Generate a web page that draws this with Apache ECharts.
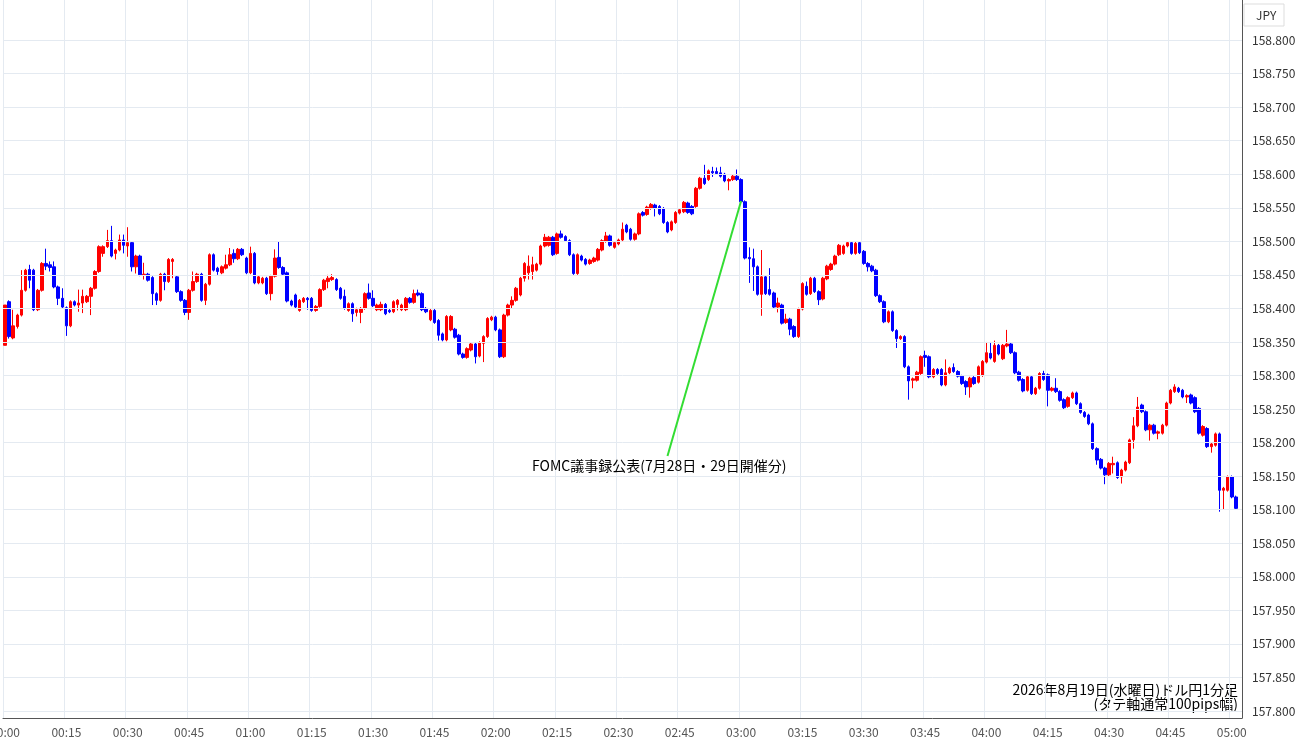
<!DOCTYPE html>
<html><head><meta charset="utf-8">
<script src="https://cdn.jsdelivr.net/npm/echarts@6/dist/echarts.min.js"></script>
<style>html,body{margin:0;padding:0;background:#fff}#c{width:1300px;height:745px}</style>
</head><body><div id="c"></div>
<script>
// [open, close, low, high] per 1-minute candle from 00:00
const ohlc = [
[158.345,158.405,158.345,158.405],[158.410,158.358,158.355,158.412],[158.356,158.374,158.354,158.398],[158.373,158.390,158.370,158.392],[158.390,158.427,158.388,158.457],
[158.427,158.457,158.425,158.459],[158.458,158.442,158.430,158.465],[158.457,158.398,158.396,158.459],[158.398,158.427,158.396,158.429],[158.427,158.467,158.425,158.469],
[158.467,158.463,158.457,158.489],[158.465,158.461,158.455,158.470],[158.462,158.432,158.430,158.470],[158.432,158.415,158.405,158.434],[158.415,158.402,158.400,158.430],
[158.401,158.374,158.359,158.403],[158.374,158.410,158.372,158.412],[158.410,158.405,158.403,158.412],[158.405,158.408,158.395,158.428],[158.408,158.418,158.393,158.428],
[158.410,158.418,158.408,158.420],[158.418,158.430,158.390,158.432],[158.430,158.455,158.428,158.457],[158.455,158.492,158.453,158.494],[158.482,158.492,158.477,158.494],
[158.492,158.501,158.490,158.517],[158.501,158.478,158.476,158.523],[158.482,158.487,158.473,158.489],[158.487,158.502,158.485,158.510],[158.502,158.494,158.482,158.510],
[158.493,158.498,158.477,158.521],[158.498,158.462,158.455,158.500],[158.462,158.478,158.452,158.480],[158.478,158.450,158.448,158.480],[158.450,158.451,158.443,158.468],
[158.451,158.442,158.440,158.453],[158.446,158.422,158.405,158.448],[158.422,158.412,158.405,158.424],[158.412,158.451,158.410,158.453],[158.451,158.440,158.427,158.453],
[158.440,158.473,158.438,158.475],[158.470,158.473,158.445,158.475],[158.447,158.425,158.423,158.449],[158.425,158.412,158.410,158.427],[158.412,158.394,158.390,158.414],
[158.394,158.427,158.383,158.429],[158.427,158.440,158.425,158.455],[158.440,158.451,158.438,158.453],[158.451,158.412,158.410,158.453],[158.412,158.436,158.405,158.438],
[158.436,158.480,158.434,158.482],[158.480,158.457,158.455,158.482],[158.460,158.455,158.450,158.462],[158.453,158.462,158.451,158.464],[158.460,158.465,158.458,158.480],
[158.465,158.480,158.463,158.490],[158.482,158.474,158.468,158.488],[158.474,158.488,158.472,158.490],[158.488,158.480,158.478,158.490],[158.475,158.453,158.451,158.477],
[158.453,158.482,158.451,158.492],[158.482,158.438,158.436,158.484],[158.438,158.447,158.436,158.449],[158.438,158.445,158.436,158.447],[158.445,158.422,158.420,158.447],
[158.422,158.448,158.412,158.450],[158.448,158.475,158.446,158.488],[158.476,158.461,158.459,158.500],[158.461,158.451,158.449,158.463],[158.453,158.411,158.409,158.455],
[158.411,158.405,158.403,158.413],[158.420,158.402,158.400,158.422],[158.397,158.412,158.395,158.414],[158.410,158.415,158.408,158.417],[158.415,158.413,158.398,158.417],
[158.415,158.397,158.395,158.417],[158.397,158.403,158.395,158.405],[158.403,158.428,158.401,158.430],[158.428,158.442,158.426,158.444],[158.440,158.445,158.430,158.450],
[158.443,158.446,158.441,158.451],[158.443,158.428,158.426,158.445],[158.430,158.415,158.413,158.432],[158.418,158.400,158.398,158.428],[158.397,158.407,158.395,158.409],
[158.407,158.392,158.380,158.409],[158.394,158.398,158.388,158.401],[158.394,158.400,158.378,158.402],[158.400,158.422,158.398,158.424],[158.423,158.415,158.413,158.437],
[158.415,158.404,158.402,158.427],[158.398,158.405,158.396,158.407],[158.398,158.406,158.396,158.410],[158.406,158.392,158.390,158.408],[158.397,158.395,158.393,158.399],
[158.395,158.410,158.393,158.412],[158.406,158.412,158.397,158.414],[158.398,158.405,158.396,158.407],[158.398,158.415,158.396,158.417],[158.415,158.409,158.407,158.417],
[158.409,158.422,158.407,158.428],[158.423,158.420,158.418,158.428],[158.422,158.398,158.396,158.424],[158.400,158.395,158.393,158.402],[158.383,158.397,158.381,158.399],
[158.397,158.379,158.377,158.399],[158.382,158.360,158.352,158.384],[158.362,158.353,158.351,158.364],[158.353,158.388,158.351,158.390],[158.368,158.388,158.366,158.390],
[158.369,158.357,158.355,158.371],[158.360,158.332,158.330,158.362],[158.332,158.327,158.325,158.334],[158.327,158.340,158.325,158.342],[158.338,158.347,158.336,158.349],
[158.347,158.328,158.318,158.349],[158.329,158.349,158.327,158.351],[158.348,158.358,158.320,158.360],[158.358,158.385,158.356,158.387],[158.383,158.387,158.381,158.389],
[158.387,158.368,158.366,158.389],[158.368,158.328,158.326,158.370],[158.328,158.390,158.326,158.392],[158.390,158.405,158.388,158.407],[158.405,158.412,158.400,158.418],
[158.412,158.430,158.410,158.432],[158.420,158.445,158.418,158.447],[158.445,158.467,158.440,158.469],[158.453,158.463,158.443,158.479],[158.455,158.465,158.443,158.477],
[158.457,158.466,158.455,158.468],[158.466,158.493,158.464,158.495],[158.493,158.506,158.491,158.511],[158.494,158.506,158.492,158.508],[158.506,158.480,158.478,158.508],
[158.482,158.511,158.480,158.513],[158.511,158.506,158.504,158.516],[158.507,158.501,158.499,158.509],[158.501,158.480,158.478,158.503],[158.480,158.452,158.450,158.482],
[158.452,158.480,158.450,158.482],[158.478,158.472,158.470,158.480],[158.473,158.466,158.464,158.475],[158.467,158.472,158.465,158.474],[158.470,158.475,158.468,158.477],
[158.472,158.488,158.470,158.490],[158.487,158.501,158.485,158.503],[158.500,158.508,158.498,158.514],[158.508,158.494,158.492,158.510],[158.491,158.498,158.489,158.500],
[158.496,158.502,158.494,158.504],[158.502,158.518,158.500,158.528],[158.524,158.514,158.512,158.526],[158.518,158.503,158.501,158.520],[158.503,158.511,158.501,158.513],
[158.511,158.541,158.509,158.543],[158.543,158.539,158.537,158.545],[158.540,158.551,158.538,158.553],[158.549,158.555,158.547,158.557],[158.554,158.549,158.537,158.556],
[158.552,158.541,158.539,158.554],[158.549,158.528,158.526,158.551],[158.528,158.514,158.512,158.530],[158.517,158.529,158.515,158.531],[158.528,158.543,158.526,158.545],
[158.542,158.547,158.540,158.549],[158.544,158.558,158.542,158.560],[158.557,158.543,158.541,158.559],[158.552,158.541,158.539,158.554],[158.552,158.579,158.550,158.581],
[158.579,158.594,158.577,158.596],[158.594,158.586,158.584,158.614],[158.592,158.605,158.590,158.607],[158.604,158.602,158.596,158.611],[158.604,158.601,158.599,158.610],
[158.602,158.597,158.595,158.611],[158.600,158.590,158.588,158.602],[158.590,158.592,158.576,158.594],[158.592,158.597,158.590,158.599],[158.597,158.592,158.590,158.607],
[158.592,158.559,158.557,158.594],[158.559,158.475,158.473,158.561],[158.476,158.474,158.438,158.491],[158.474,158.462,158.426,158.489],[158.462,158.421,158.419,158.464],
[158.421,158.447,158.389,158.487],[158.447,158.422,158.420,158.449],[158.428,158.421,158.419,158.460],[158.423,158.402,158.400,158.425],[158.402,158.408,158.394,158.416],
[158.405,158.378,158.376,158.407],[158.379,158.384,158.377,158.392],[158.384,158.369,158.360,158.386],[158.373,158.358,158.356,158.375],[158.358,158.399,158.356,158.401],
[158.399,158.437,158.397,158.439],[158.433,158.421,158.419,158.440],[158.422,158.445,158.420,158.447],[158.445,158.425,158.423,158.447],[158.425,158.413,158.405,158.427],
[158.414,158.445,158.412,158.447],[158.444,158.463,158.442,158.465],[158.458,158.466,158.456,158.468],[158.466,158.478,158.464,158.480],[158.480,158.494,158.478,158.496],
[158.482,158.493,158.480,158.495],[158.493,158.498,158.491,158.500],[158.498,158.482,158.480,158.500],[158.482,158.497,158.480,158.499],[158.498,158.483,158.481,158.500],
[158.485,158.467,158.465,158.487],[158.467,158.462,158.455,158.469],[158.463,158.456,158.454,158.465],[158.457,158.419,158.417,158.459],[158.419,158.410,158.408,158.421],
[158.410,158.380,158.378,158.412],[158.380,158.395,158.378,158.397],[158.395,158.367,158.365,158.397],[158.367,158.355,158.341,158.369],[158.355,158.358,158.353,158.360],
[158.358,158.313,158.311,158.360],[158.313,158.292,158.264,158.315],[158.293,158.295,158.281,158.297],[158.293,158.305,158.291,158.307],[158.303,158.328,158.301,158.330],
[158.330,158.327,158.313,158.337],[158.328,158.298,158.296,158.330],[158.298,158.309,158.296,158.311],[158.309,158.303,158.301,158.311],[158.309,158.286,158.284,158.311],
[158.286,158.304,158.284,158.324],[158.304,158.311,158.302,158.313],[158.312,158.306,158.304,158.318],[158.306,158.299,158.297,158.308],[158.299,158.288,158.286,158.301],
[158.291,158.283,158.271,158.293],[158.283,158.296,158.267,158.298],[158.297,158.288,158.286,158.299],[158.290,158.313,158.288,158.315],[158.300,158.321,158.298,158.323],
[158.320,158.334,158.318,158.350],[158.333,158.326,158.324,158.350],[158.321,158.345,158.319,158.352],[158.345,158.332,158.330,158.347],[158.325,158.345,158.323,158.347],
[158.344,158.347,158.342,158.368],[158.347,158.334,158.332,158.349],[158.334,158.304,158.302,158.336],[158.305,158.293,158.291,158.307],[158.294,158.277,158.275,158.296],
[158.278,158.298,158.276,158.300],[158.298,158.273,158.271,158.300],[158.273,158.281,158.271,158.283],[158.281,158.303,158.279,158.305],[158.303,158.294,158.292,158.307],
[158.301,158.278,158.254,158.303],[158.278,158.281,158.276,158.283],[158.281,158.276,158.274,158.296],[158.276,158.263,158.261,158.278],[158.264,158.252,158.250,158.266],
[158.254,158.267,158.252,158.269],[158.267,158.274,158.265,158.276],[158.274,158.258,158.256,158.276],[158.258,158.245,158.243,158.260],[158.245,158.239,158.237,158.247],
[158.241,158.228,158.226,158.243],[158.228,158.191,158.189,158.230],[158.191,158.174,158.167,158.193],[158.175,158.162,158.160,158.177],[158.162,158.152,158.138,158.164],
[158.152,158.169,158.150,158.171],[158.167,158.169,158.154,158.179],[158.170,158.148,158.146,158.172],[158.149,158.159,158.139,158.161],[158.159,158.171,158.157,158.173],
[158.170,158.204,158.168,158.206],[158.204,158.225,158.191,158.238],[158.225,158.253,158.223,158.268],[158.256,158.246,158.244,158.258],[158.246,158.219,158.217,158.248],
[158.219,158.226,158.203,158.228],[158.226,158.214,158.212,158.228],[158.214,158.216,158.205,158.218],[158.214,158.226,158.212,158.228],[158.226,158.259,158.224,158.261],
[158.259,158.278,158.257,158.280],[158.276,158.283,158.274,158.287],[158.281,158.276,158.274,158.283],[158.278,158.268,158.266,158.280],[158.268,158.270,158.259,158.272],
[158.271,158.259,158.257,158.273],[158.267,158.246,158.244,158.269],[158.251,158.214,158.212,158.253],[158.211,158.224,158.209,158.226],[158.221,158.194,158.192,158.223],
[158.194,158.198,158.185,158.200],[158.196,158.213,158.194,158.215],[158.213,158.129,158.097,158.215],[158.129,158.132,158.100,158.134],[158.129,158.149,158.127,158.151],
[158.149,158.119,158.117,158.151],[158.119,158.102,158.100,158.121]
];
const startHour = 0, nCats = 303;
const categories = [];
for (let i = 0; i < nCats; i++) {
  const h = startHour + Math.floor(i / 60), m = i % 60;
  categories.push(String(h).padStart(2,'0') + ':' + String(m).padStart(2,'0'));
}
const yTicks = [157.80,157.85,157.90,157.95,158.00,158.05,158.10,158.15,158.20,158.25,158.30,158.35,158.40,158.45,158.50,158.55,158.60,158.65,158.70,158.75,158.80];
const yMin = 157.7896, yMax = 158.8596;
const annotation = { text: 'FOMC議事録公表(7月28日・29日開催分)', from: [180, 158.560], to: [162, 158.180] };
const footnote = ['2026年8月19日(水曜日)ドル円1分足', '(タテ軸通常100pips幅)'];
const seriesData = ohlc.map(r => [r[0], r[1], r[2], r[3]]);
const F = '"Noto Sans CJK JP", "Noto Sans", sans-serif';
const chart = echarts.init(document.getElementById('c'));
chart.setOption({
  animation: false,
  backgroundColor: '#fff',
  grid: { left: 3, right: 58, top: 0, bottom: 27, outerBoundsMode: 'none', containLabel: false },
  xAxis: {
    type: 'category', data: categories, boundaryGap: true,
    axisLine: { lineStyle: { color: '#555', width: 1 } },
    axisTick: { show: false },
    axisLabel: { interval: (i) => i % 15 === 0, color: '#555', fontSize: 12, fontFamily: F, margin: 8 },
    splitLine: { show: true, interval: (i) => i % 15 === 0, lineStyle: { color: '#e4eaf1' } }
  },
  yAxis: {
    type: 'value', position: 'right', min: yMin, max: yMax,
    axisLine: { show: true, lineStyle: { color: '#555' } },
    axisTick: { show: false },
    axisLabel: { customValues: yTicks, color: '#333', fontSize: 12, fontFamily: F, margin: 10,
      formatter: v => v.toFixed(3) },
    splitLine: { show: false }
  },
  graphic: [
    { type: 'rect', shape: { x: 1244, y: 4, width: 40, height: 22 }, style: { fill: '#fff', stroke: '#ddd' } },
    { type: 'text', x: 1256, y: 9, style: { text: 'JPY', fill: '#333', font: '12px ' + F } },
    { type: 'text', x: 1238, y: 683, style: { text: footnote[0], fill: '#000', font: '14px ' + F, textAlign: 'right' } },
    { type: 'text', x: 1238, y: 697, style: { text: footnote[1], fill: '#000', font: '14px ' + F, textAlign: 'right' } }
  ],
  series: [{
    type: 'line', data: [], silent: true,
    markLine: {
      silent: true, symbol: ['none', 'none'], animation: false,
      lineStyle: { color: '#e4eaf1', width: 1, type: 'solid' },
      label: { show: false },
      data: yTicks.map(v => ({ yAxis: v }))
    }
  }, {
    type: 'candlestick', data: seriesData, barWidth: 3,
    itemStyle: { color: '#ff0000', color0: '#0000ff', borderColor: '#ff0000', borderColor0: '#0000ff', borderWidth: 1 },
    markLine: {
      silent: true, symbol: ['none', 'none'],
      lineStyle: { color: '#33dd33', width: 2, type: 'solid' },
      label: { show: false },
      data: [[{ coord: [categories[annotation.from[0]], annotation.from[1]] }, { coord: [categories[annotation.to[0]], annotation.to[1]] }]]
    },
    markPoint: {
      silent: true, symbol: 'circle', symbolSize: 1, itemStyle: { color: 'rgba(0,0,0,0)' },
      label: { show: true, position: 'bottom', distance: 2, color: '#000', fontSize: 14, fontFamily: F, formatter: annotation.text },
      data: [{ coord: [categories[annotation.to[0] - 2], annotation.to[1]] }]
    }
  }]
});
</script></body></html>
